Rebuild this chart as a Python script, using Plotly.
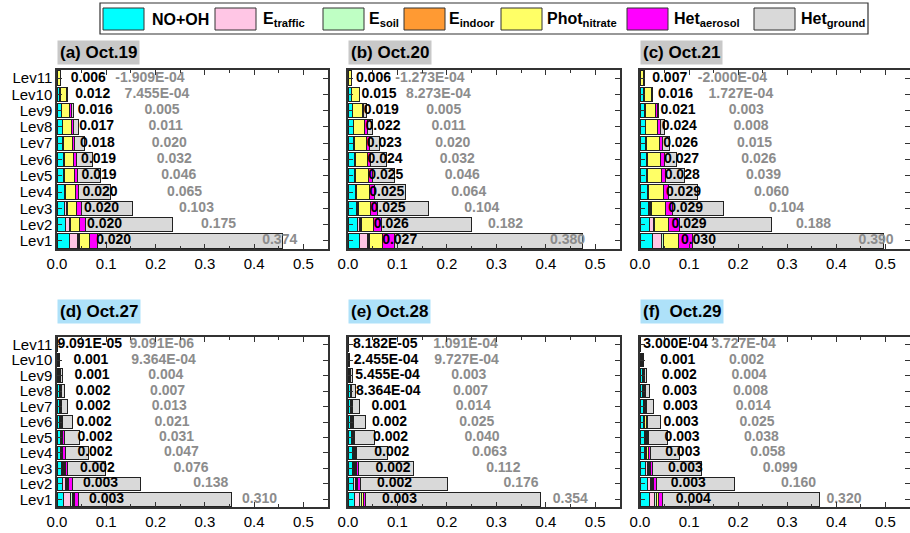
import numpy as np
import plotly.graph_objects as go

FONT = "Arial, 'Liberation Sans', Helvetica, sans-serif"

# ---------------- data ----------------
levels = [f"Lev{i}" for i in range(1, 12)]          # bottom (Lev1) -> top (Lev11)
series_names = ["NO+OH", "E<sub>traffic</sub>", "E<sub>soil</sub>", "E<sub>indoor</sub>",
                "Phot<sub>nitrate</sub>", "Het<sub>aerosol</sub>", "Het<sub>ground</sub>"]
series_colors = ["#00FFFF", "#FFC6E5", "#BFFFC4", "#FF9A33", "#FFFF66", "#FF00FF", "#D9D9D9"]
panel_titles = ["(a) Oct.19", "(b) Oct.20", "(c) Oct.21", "(d) Oct.27", "(e) Oct.28", "(f)  Oct.29"]

# (a) Oct.19  values Lev1..Lev11
no_oh_a   = [0.026, 0.0175, 0.016, 0.015, 0.014, 0.013, 0.012, 0.011, 0.009, 0.006, 0.0005]
traffic_a = [0.016, 0.007, 0.003, 0.001, 0.001, 0.001, 0.0005, 0.0005, 0.0003, 0.0002, 0.0]
soil_a    = [0.002, 0.0015, 0.001, 0.001, 0.0005, 0.0005, 0.0003, 0.0003, 0.0003, 0.0001, 0.0]
indoor_a  = [0.001, 0.0005, 0.0005, 0.0005, 0.0005, 0.0005, 0.0002, 0.0002, 0.0002, 0.0001, 0.0]
phot_a    = [0.020, 0.020, 0.020, 0.020, 0.019, 0.019, 0.018, 0.017, 0.016, 0.012, 0.006]
aer_a     = [0.018, 0.012, 0.009, 0.007, 0.007, 0.006, 0.005, 0.004, 0.003, 0.002, 0.0003]
ground_a  = [0.374, 0.175, 0.103, 0.065, 0.046, 0.032, 0.020, 0.011, 0.005, 7.455e-4, -1.909e-4]

# (b) Oct.20
no_oh_b   = [0.024, 0.019, 0.017, 0.015, 0.014, 0.013, 0.012, 0.011, 0.009, 0.007, 0.0005]
traffic_b = [0.016, 0.005, 0.002, 0.0015, 0.001, 0.001, 0.001, 0.0005, 0.0005, 0.0002, 0.0]
soil_b    = [0.002, 0.002, 0.001, 0.001, 0.0007, 0.0007, 0.0005, 0.0003, 0.0003, 0.0001, 0.0]
indoor_b  = [0.001, 0.0005, 0.0005, 0.0005, 0.0003, 0.0003, 0.0003, 0.0002, 0.0002, 0.0001, 0.0]
phot_b    = [0.027, 0.026, 0.025, 0.025, 0.025, 0.024, 0.023, 0.022, 0.019, 0.015, 0.006]
aer_b     = [0.025, 0.016, 0.014, 0.010, 0.008, 0.007, 0.006, 0.005, 0.003, 0.001, 0.0002]
ground_b  = [0.380, 0.182, 0.104, 0.064, 0.046, 0.032, 0.020, 0.011, 0.005, 8.273e-4, -1.273e-4]

# (c) Oct.21
no_oh_c   = [0.026, 0.019, 0.017, 0.015, 0.014, 0.013, 0.012, 0.011, 0.010, 0.008, 0.001]
traffic_c = [0.018, 0.008, 0.003, 0.0015, 0.001, 0.001, 0.001, 0.0005, 0.0005, 0.0002, 0.0]
soil_c    = [0.003, 0.002, 0.002, 0.001, 0.0007, 0.0007, 0.0005, 0.0003, 0.0003, 0.0001, 0.0]
indoor_c  = [0.001, 0.0005, 0.0005, 0.0005, 0.0003, 0.0003, 0.0003, 0.0002, 0.0002, 0.0001, 0.0]
phot_c    = [0.030, 0.029, 0.029, 0.029, 0.028, 0.027, 0.026, 0.024, 0.021, 0.016, 0.007]
aer_c     = [0.028, 0.021, 0.015, 0.011, 0.008, 0.007, 0.006, 0.006, 0.003, 0.001, 0.0003]
ground_c  = [0.390, 0.188, 0.104, 0.060, 0.039, 0.026, 0.015, 0.008, 0.003, 1.727e-4, -2.000e-4]

# (d) Oct.27
no_oh_d   = [0.014, 0.011, 0.009, 0.0075, 0.008, 0.006, 0.005, 0.005, 0.004, 0.002, 0.0003]
traffic_d = [0.014, 0.006, 0.003, 0.001, 0.001, 0.001, 0.0005, 0.0005, 0.0003, 0.0001, 0.0]
soil_d    = [0.004, 0.003, 0.002, 0.001, 0.0007, 0.0007, 0.0005, 0.0003, 0.0003, 0.0001, 0.0]
indoor_d  = [0.001, 0.001, 0.001, 0.0005, 0.0003, 0.0003, 0.0003, 0.0002, 0.0002, 0.0001, 0.0]
phot_d    = [0.003, 0.003, 0.002, 0.002, 0.002, 0.002, 0.002, 0.002, 0.001, 0.001, 9.091e-5]
aer_d     = [0.008, 0.007, 0.005, 0.005, 0.003, 0.001, 0.001, 0.001, 0.001, 0.0005, 0.0001]
ground_d  = [0.310, 0.138, 0.076, 0.047, 0.031, 0.021, 0.013, 0.007, 0.004, 9.364e-4, 9.091e-6]

# (e) Oct.28
no_oh_e   = [0.0135, 0.011, 0.009, 0.009, 0.008, 0.006, 0.006, 0.005, 0.004, 0.0015, 0.0003]
traffic_e = [0.010, 0.004, 0.003, 0.002, 0.001, 0.001, 0.0007, 0.0005, 0.0003, 0.0001, 0.0]
soil_e    = [0.003, 0.002, 0.002, 0.001, 0.0007, 0.0007, 0.0005, 0.0003, 0.0003, 0.0001, 0.0]
indoor_e  = [0.001, 0.001, 0.001, 0.0005, 0.0003, 0.0003, 0.0003, 0.0002, 0.0002, 0.0001, 0.0]
phot_e    = [0.003, 0.002, 0.002, 0.002, 0.002, 0.002, 0.001, 8.364e-4, 5.455e-4, 2.455e-4, 8.182e-5]
aer_e     = [0.005, 0.005, 0.004, 0.003, 0.002, 0.001, 0.0008, 0.0005, 0.0004, 0.0003, 0.0001]
ground_e  = [0.354, 0.176, 0.112, 0.063, 0.040, 0.025, 0.014, 0.007, 0.003, 9.727e-4, 1.091e-4]

# (f) Oct.29
no_oh_f   = [0.019, 0.016, 0.012, 0.010, 0.009, 0.008, 0.007, 0.006, 0.006, 0.004, 0.0003]
traffic_f = [0.0115, 0.006, 0.004, 0.002, 0.002, 0.001, 0.001, 0.0005, 0.0005, 0.0002, 0.0]
soil_f    = [0.003, 0.002, 0.002, 0.001, 0.001, 0.0007, 0.0005, 0.0003, 0.0003, 0.0001, 0.0]
indoor_f  = [0.001, 0.001, 0.001, 0.0005, 0.0003, 0.0003, 0.0003, 0.0002, 0.0002, 0.0001, 0.0]
phot_f    = [0.004, 0.003, 0.003, 0.003, 0.003, 0.003, 0.003, 0.003, 0.002, 0.001, 3.000e-4]
aer_f     = [0.007, 0.005, 0.004, 0.005, 0.003, 0.003, 0.002, 0.001, 0.001, 0.0005, 0.0001]
ground_f  = [0.320, 0.160, 0.099, 0.058, 0.038, 0.025, 0.014, 0.008, 0.004, 0.002, 3.727e-4]

panels = [
    [no_oh_a, traffic_a, soil_a, indoor_a, phot_a, aer_a, ground_a],
    [no_oh_b, traffic_b, soil_b, indoor_b, phot_b, aer_b, ground_b],
    [no_oh_c, traffic_c, soil_c, indoor_c, phot_c, aer_c, ground_c],
    [no_oh_d, traffic_d, soil_d, indoor_d, phot_d, aer_d, ground_d],
    [no_oh_e, traffic_e, soil_e, indoor_e, phot_e, aer_e, ground_e],
    [no_oh_f, traffic_f, soil_f, indoor_f, phot_f, aer_f, ground_f],
]

# ---------------- style ----------------
W, H = 910, 533
title_bg = ["#C8C8C8"] * 3 + ["#AEE1F9"] * 3
black_offset = [0.060, 0.048, 0.056, 0.066, 0.075, 0.072]   # label shift (data units)
gray_offset = [0.182, 0.159, 0.180, 0.212, 0.237, 0.210]
x_dom = [[57 / W, 328 / W], [348 / W, 620 / W], [640 / W, 1.0]]
y_dom = [[1 - 249 / H, 1 - 70 / H], [1 - 507 / H, 1 - 337 / H]]
title_y = [1 - 65 / H, 1 - 324 / H]
LINE = "#333333"


def fmt(v):
    return f"{v:.3f}" if abs(v) >= 0.001 else f"{v:.3E}"


fig = go.Figure()
layout_axes = {}
annotations = []

for i, series in enumerate(panels):
    k = i + 1
    xa = "x" if k == 1 else f"x{k}"
    ya = "y" if k == 1 else f"y{k}"
    arr = np.array(series, dtype=float)
    cum = np.cumsum(arr, axis=0)
    for s, vals in enumerate(series):
        fig.add_trace(go.Bar(
            x=vals, y=levels, orientation="h", xaxis=xa, yaxis=ya,
            marker=dict(color=series_colors[s], line=dict(color="#222222", width=1)),
            showlegend=False, hoverinfo="x+y", name=series_names[s]))
    # labels
    phot = arr[4]
    ground = arr[6]
    phot_center = cum[3] + phot / 2
    ground_center = cum[5] + ground / 2
    fig.add_trace(go.Scatter(
        x=phot_center + black_offset[i], y=levels, mode="text",
        text=[fmt(v) for v in phot], textposition="middle center",
        textfont=dict(family=FONT, size=14, color="#000000", weight="bold"),
        xaxis=xa, yaxis=ya, showlegend=False, hoverinfo="skip", cliponaxis=False))
    fig.add_trace(go.Scatter(
        x=ground_center + gray_offset[i], y=levels, mode="text",
        text=[fmt(v) for v in ground], textposition="middle center",
        textfont=dict(family=FONT, size=14, color="#8C8C8C", weight="bold"),
        xaxis=xa, yaxis=ya, showlegend=False, hoverinfo="skip", cliponaxis=False))

    row, col = divmod(i, 3)
    xkey = "xaxis" if k == 1 else f"xaxis{k}"
    ykey = "yaxis" if k == 1 else f"yaxis{k}"
    layout_axes[xkey] = dict(
        domain=x_dom[col], anchor=ya, range=[0, 0.55], tick0=0, dtick=0.1, tickformat=".1f",
        ticks="inside", ticklen=5, tickwidth=1.2, tickcolor=LINE,
        minor=dict(dtick=0.05, ticks="inside", ticklen=3, tickwidth=1, tickcolor=LINE),
        showline=True, linecolor=LINE, linewidth=1.5, mirror="ticks",
        showgrid=False, zeroline=False, automargin=False,
        tickfont=dict(family=FONT, size=15, color="#000000"))
    layout_axes[ykey] = dict(
        domain=y_dom[row], anchor=xa, type="category", categoryorder="array",
        categoryarray=levels, range=[-0.5, 10.5],
        tickmode="array", tickvals=levels, ticktext=levels,
        ticks="inside", ticklen=5, tickwidth=1.2, tickcolor=LINE,
        showline=True, linecolor=LINE, linewidth=1.5, mirror="ticks",
        showgrid=False, zeroline=False, showticklabels=(col == 0), automargin=False,
        tickfont=dict(family=FONT, size=15, color="#000000"))
    annotations.append(dict(
        text=panel_titles[i], xref="paper", yref="paper", x=x_dom[col][0], y=title_y[row],
        xanchor="left", yanchor="bottom", showarrow=False, bgcolor=title_bg[i], borderpad=2,
        font=dict(family=FONT, size=17, color="#000000", weight="bold")))

# ---------------- custom legend ----------------
shapes = []
box_l, box_r, box_t, box_b = 100, 868, 3, 34
shapes.append(dict(type="rect", xref="paper", yref="paper",
                   x0=box_l / W, x1=box_r / W, y0=1 - box_b / H, y1=1 - box_t / H,
                   line=dict(color=LINE, width=1.2), fillcolor="white", layer="below"))
sw_left = [103, 215, 323, 404, 501, 627, 754]
txt_left = [150, 261, 367, 447, 545, 672, 799]
for s in range(7):
    shapes.append(dict(type="rect", xref="paper", yref="paper",
                       x0=sw_left[s] / W, x1=(sw_left[s] + 41) / W,
                       y0=1 - 30 / H, y1=1 - 8 / H,
                       line=dict(color=LINE, width=1), fillcolor=series_colors[s]))
    annotations.append(dict(
        text=series_names[s], xref="paper", yref="paper", x=txt_left[s] / W, y=1 - 19 / H,
        xanchor="left", yanchor="middle", showarrow=False,
        font=dict(family=FONT, size=16, color="#000000", weight="bold")))

fig.update_layout(
    width=W, height=H, margin=dict(l=0, r=0, t=0, b=0, autoexpand=False),
    barmode="stack", bargap=0.12,
    paper_bgcolor="white", plot_bgcolor="white",
    annotations=annotations, shapes=shapes,
    font=dict(family=FONT),
    **layout_axes)

fig.write_html("out.html")
